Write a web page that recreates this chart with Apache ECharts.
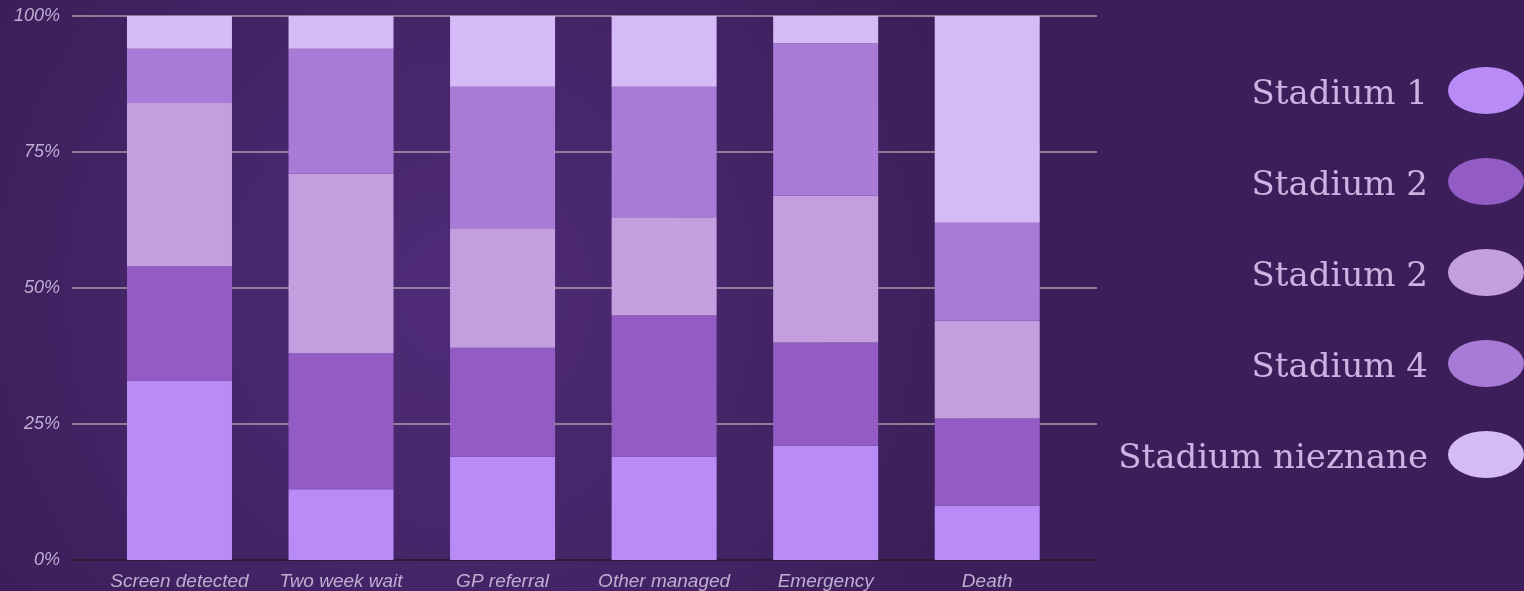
<!DOCTYPE html>
<html>
<head>
<meta charset="utf-8">
<script src="https://cdn.jsdelivr.net/npm/echarts@6/dist/echarts.min.js"></script>
<style>
html,body{margin:0;padding:0;width:1524px;height:591px;overflow:hidden;background:#3f2160;}
#c{width:1524px;height:591px;}
</style>
</head>
<body>
<div id="c"></div>
<script>
var categories = ['Screen detected', 'Two week wait', 'GP referral', 'Other managed', 'Emergency', 'Death'];
var seriesNames = ['Stadium 1', 'Stadium 2', 'Stadium 2\u200B', 'Stadium 4', 'Stadium nieznane'];
var stage1 = [33, 13, 19, 19, 21, 10];
var stage2 = [21, 25, 20, 26, 19, 16];
var stage3 = [30, 33, 22, 18, 27, 18];
var stage4 = [10, 23, 26, 24, 28, 18];
var unknown = [6, 6, 13, 13, 5, 38];
var yTicks = [0, 25, 50, 75, 100];

var colors = ['#b88bf6', '#935cc4', '#c39fe0', '#a87bd6', '#d4baf6'];
var values = [stage1, stage2, stage3, stage4, unknown];

var chart = echarts.init(document.getElementById('c'));
var ellipse = 'path://M0,50 A50,50 0 1,1 100,50 A50,50 0 1,1 0,50 Z';

var series = values.map(function (v, i) {
  return {
    name: seriesNames[i],
    type: 'bar',
    stack: 'total',
    xAxisIndex: 1,
    yAxisIndex: 1,
    barWidth: 105,
    itemStyle: { color: colors[i], borderWidth: 0 },
    emphasis: { disabled: true },
    data: v
  };
});

chart.setOption({
  backgroundColor: {
    type: 'radial', x: 0.3, y: 0.5, r: 0.9,
    colorStops: [
      { offset: 0, color: '#4f2b78' },
      { offset: 1, color: '#3c1f5a' }
    ]
  },
  animation: false,
  grid: [
    { left: 72, right: 427, top: 16, bottom: 31 },
    { left: 98.7, right: 456, top: 16, bottom: 31 }
  ],
  xAxis: [
    {
      gridIndex: 0, type: 'value', min: 0, max: 1,
      axisLabel: { show: false }, axisTick: { show: false }, splitLine: { show: false },
      axisLine: { show: true, lineStyle: { color: '#2a1d33', width: 2 } }
    },
    {
      gridIndex: 1, type: 'category', data: categories,
      axisLine: { show: false }, axisTick: { show: false },
      axisLabel: {
        interval: 0, hideOverlap: false,
        margin: 12, fontSize: 19, fontStyle: 'italic', fontFamily: 'Liberation Sans',
        color: '#bfaed2'
      }
    }
  ],
  yAxis: [
    {
      gridIndex: 0, type: 'value', min: yTicks[0], max: yTicks[yTicks.length - 1], interval: 25,
      axisLine: { show: false }, axisTick: { show: false },
      axisLabel: {
        margin: 12, fontSize: 18, fontStyle: 'italic', fontFamily: 'Liberation Sans',
        color: '#bfaed2', formatter: '{value}%'
      },
      splitLine: { show: true, lineStyle: { color: '#a89cab', width: 1.5 } }
    },
    {
      gridIndex: 1, type: 'value', min: 0, max: 100, show: false
    }
  ],
  legend: {
    orient: 'vertical',
    right: 0,
    top: 67,
    padding: 0,
    align: 'right',
    itemWidth: 76,
    itemHeight: 47,
    itemGap: 44,
    selectedMode: false,
    symbolKeepAspect: false,
    icon: ellipse,
    data: seriesNames,
    formatter: function (name) { return '{t|' + name + '}'; },
    textStyle: {
      fontFamily: 'DejaVu Serif',
      fontSize: 34,
      color: '#cdb3e3',
      rich: {
        t: {
          fontFamily: 'DejaVu Serif',
          fontSize: 34,
          color: '#cdb3e3',
          padding: [9, 15, 0, 0]
        }
      }
    }
  },
  series: series
});
</script>
</body>
</html>
